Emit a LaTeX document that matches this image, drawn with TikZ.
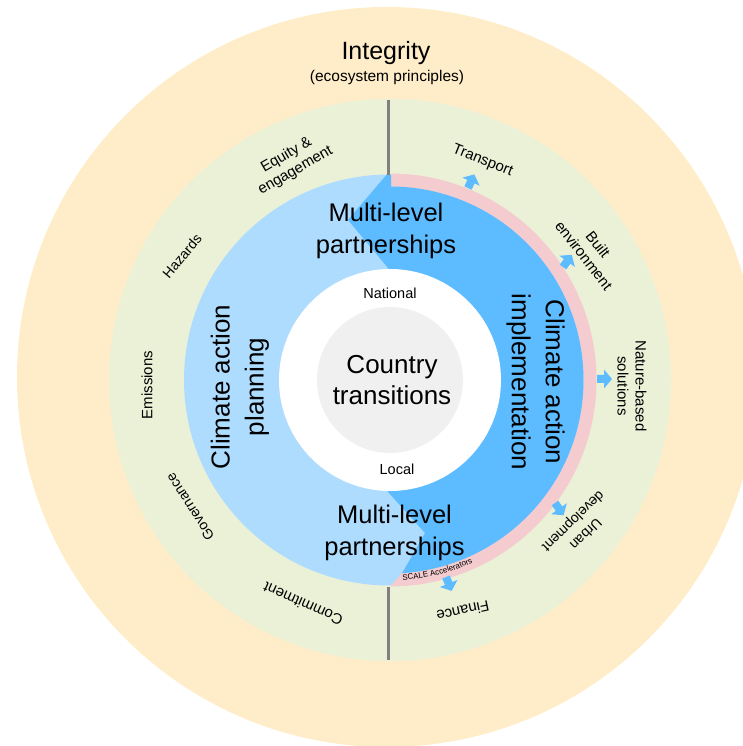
\documentclass[tikz,border=0pt]{standalone}
\usepackage{fontspec}
\setmainfont{Liberation Sans}
\usetikzlibrary{calc,decorations.text}
\definecolor{ringyellow}{HTML}{FEEDC8}
\definecolor{ringgreen}{HTML}{EAF1D7}
\definecolor{lightblue}{HTML}{ADDCFF}
\definecolor{darkblue}{HTML}{5DBBFF}
\definecolor{ringpink}{HTML}{F4CCCF}
\definecolor{coregrey}{HTML}{F0F0F0}
\definecolor{axisgrey}{HTML}{808080}
\tikzset{
  lbl/.style={inner sep=0pt,align=center,text=black},
  big/.style={lbl,font=\fontsize{26}{31}\selectfont},
  mlevel/.style={lbl,font=\fontsize{25.5}{32}\selectfont},
  title/.style={lbl,font=\fontsize{25}{30}\selectfont},
  mid/.style={lbl,font=\fontsize{15}{18}\selectfont},
  midn/.style={lbl,font=\fontsize{14}{18}\selectfont},
  small/.style={lbl,font=\fontsize{14.5}{16}\selectfont},
  blockfill/.style={fill=darkblue}
}
\newcommand{\blockarrow}[3]{%
  \fill[blockfill,shift={(#1,#2)},rotate=#3]
    (0,-4)--(7,-4)--(7,-9.5)--(15,0)--(7,9.5)--(7,4)--(0,4)--cycle;}
\begin{document}
\begin{tikzpicture}[x=1pt,y=1pt]
\useasboundingbox (0,0) rectangle (743,746);
\coordinate (C) at (390,366);
\fill[ringyellow] (387,369) circle (370);
\fill[ringgreen] (C) circle (281);
\fill[lightblue] (389.5,366) circle (205.5);
\fill[ringpink] ($(C)+(89.7:206.5)$) arc[start angle=89.7,end angle=-90,radius=206.5pt]
  -- ($(C)+(-86.4:193.5)$) arc[start angle=-86.4,end angle=89.7,radius=193.5pt] -- cycle;
\fill[darkblue] (388,573) -- (391,571) -- ($(C)+(89.7:193.5)$)
  arc[start angle=89.7,end angle=-86.4,radius=193.5pt]
  -- (425,213) -- (388,254) -- (388,478) -- (348,526) -- cycle;
\fill[white] (C) circle (111);
\fill[coregrey] (C) circle (73);
\coordinate (axT1) at (388,646);
\coordinate (axT2) at (388,571);
\coordinate (axB1) at (388,159);
\coordinate (axB2) at (388,86);
\draw[axisgrey,line width=3pt] (axT1) -- (axT2);
\draw[axisgrey,line width=3pt] (axB1) -- (axB2);
\blockarrow{468}{558}{65}
\blockarrow{563}{479}{54}
\blockarrow{597}{367}{0}
\blockarrow{555}{243}{-55}
\blockarrow{446}{169}{-68}
\path[postaction={decorate,decoration={text along path,text align=center,
  text={|\fontsize{8}{9}\selectfont|SCALE  Accelerators}}}]
  ($(C)+(-87:200.5)$) arc[start angle=-87,end angle=-65,radius=200.5pt];
\node[title] (integrity) at (386,693) {Integrity};
\node[small] (eco) at (387,668.5) {\fontsize{15.5}{16}\selectfont (ecosystem principles)};
\node[mlevel] (mlt) at (386,515) {Multi-level\\partnerships};
\node[mlevel] (mlb) at (394.5,213) {Multi-level\\partnerships};
\node[big] (country) at (392,366) {Country\\transitions};
\node[small] (national) at (390,453) {National};
\node[small] (local) at (397,277) {Local};
\node[big,rotate=90] (plan) at (240,359) {Climate action\\[3pt]planning};
\node[big,rotate=-90] (impl) at (535.5,364) {Climate action\\[3pt]implementation};
\node[mid,rotate=-22] (transport) at (482.5,585) {Transport};
\node[mid,rotate=-52] (built) at (591,496) {Built\\environment};
\node[mid,rotate=-90] (nature) at (632,360) {Nature-based\\solutions};
\node[midn,rotate=224] (urban) at (579,219) {Urban\\development};
\node[mid,rotate=192] (finance) at (463,135) {Finance};
\node[mid,rotate=156] (commit) at (303,142) {Commitment};
\node[midn,rotate=123] (gov) at (190,239) {Governance};
\node[mid,rotate=90] (emis) at (147,361) {Emissions};
\node[midn,rotate=50] (haz) at (182,490) {Hazards};
\node[mid,rotate=30] (equity) at (291,583) {Equity \&\\engagement};
\end{tikzpicture}
\end{document}
